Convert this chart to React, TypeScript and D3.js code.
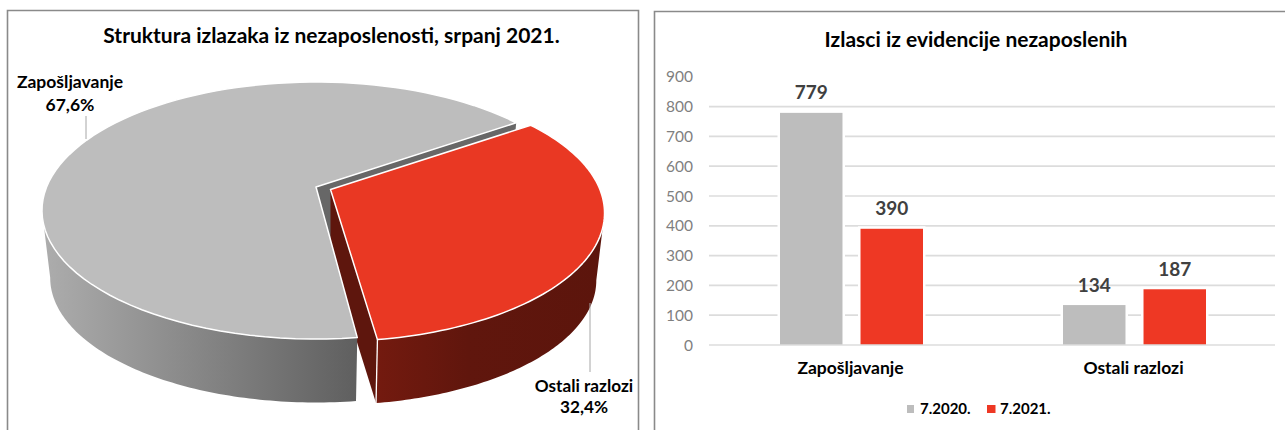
import * as d3 from "d3";

// ── Data ──────────────────────────────────────────────────
const pieCategories = ["Zapošljavanje", "Ostali razlozi"];
const piePercents = [67.6, 32.4];
const pieValueLabels = ["67,6%", "32,4%"];

const barCategories = ["Zapošljavanje", "Ostali razlozi"];
const barSeries = ["7.2020.", "7.2021."];
const values2020 = [779, 134];
const values2021 = [390, 187];
const barTicks = [0, 100, 200, 300, 400, 500, 600, 700, 800, 900];

const GREY = "#bdbdbd";
const RED = "#e93823";
const BAR_RED = "#ee3824";
const FONT = "Lato, 'Open Sans', sans-serif";

// ── Pie: circle seen in perspective ───────────────────────
const APEX = { x: 316, y: 187 };
const RED_SHIFT = { x: 14.5, y: 2.5 };
const R_X = 269.4;
const R_Y = 124.2;
const PERSP = 0.183;
const DEPTH = 68;
const BOTTOM_SCALE = 0.97;
const START = (171.8 * Math.PI) / 180;
const GREY_TRIM = Math.PI / 180; // small gap before the grey slice, as drawn in the source

const slices = d3.pie<number>().sort(null).startAngle(START).endAngle(START + 2 * Math.PI)(piePercents);

function rim(theta: number, shift: { x: number; y: number }, bottom = false): [number, number] {
  const cx = Math.sin(theta);
  const cy = -Math.cos(theta);
  const d = 1 - PERSP * cy;
  const s = bottom ? BOTTOM_SCALE : 1;
  return [
    APEX.x + shift.x + (s * R_X * cx) / d,
    APEX.y + shift.y + (bottom ? DEPTH : 0) + (s * R_Y * cy) / d,
  ];
}

const lineGen = d3.line<[number, number]>();
const closed = (pts: [number, number][]) => lineGen(pts) + "Z";
const sample = (a: number, b: number, shift: { x: number; y: number }, bottom = false) =>
  d3.range(0, 91).map((i) => rim(a + ((b - a) * i) / 90, shift, bottom));

const NO_SHIFT = { x: 0, y: 0 };
const [greySlice, redSlice] = slices;
const greyStart = greySlice.startAngle + GREY_TRIM;
const apexOf = (s: { x: number; y: number }, bottom = false): [number, number] => [
  APEX.x + s.x,
  APEX.y + s.y + (bottom ? DEPTH : 0),
];

// silhouette angles: where the rim is widest
const RIGHT_EXTREME = Math.acos(-PERSP);
const LEFT_EXTREME = 2 * Math.PI - RIGHT_EXTREME;

const greyTop = closed([apexOf(NO_SHIFT), ...sample(greyStart, greySlice.endAngle, NO_SHIFT)]);
const redTop = closed([apexOf(RED_SHIFT), ...sample(redSlice.startAngle, redSlice.endAngle, RED_SHIFT)]);

const wall = (a: number, b: number, s: { x: number; y: number }) =>
  closed([...sample(a, b, s), ...sample(a, b, s, true).reverse()]);

const greyWall = wall(greyStart, LEFT_EXTREME, NO_SHIFT);
const redWall = wall(RIGHT_EXTREME + 2 * Math.PI, redSlice.endAngle, RED_SHIFT);

// cut faces
const cut = (theta: number, s: { x: number; y: number }) =>
  closed([apexOf(s), rim(theta, s), rim(theta, s, true), apexOf(s, true)]);
const greyInner = cut(greySlice.endAngle, NO_SHIFT);
const redInner = cut(redSlice.endAngle, RED_SHIFT);

// ── Bars ──────────────────────────────────────────────────
const BASE_Y = 345;
const y = d3.scaleLinear().domain([0, 900]).range([BASE_Y, 76.8]);
const x0 = d3.scaleBand<string>().domain(barCategories).range([709, 1275]);
const GROUP_W = 143;
const x1 = d3.scaleBand<string>().domain(barSeries).range([0, GROUP_W]).paddingInner(0.224);
const seriesValues = [values2020, values2021];
const seriesColors = [GREY, BAR_RED];
const groupLeft = (c: string) => x0(c)! + (x0.bandwidth() - GROUP_W) / 2 + 1;

export default function App() {
  return (
    <svg width={1285} height={430} style={{ position: "absolute", left: 0, top: 0, background: "#fff" }} fontFamily={FONT}>
      <defs>
        <linearGradient id="greyWall" gradientUnits="userSpaceOnUse" x1={42} x2={358} y1={0} y2={0}>
          <stop offset="0" stopColor="#adadad" />
          <stop offset="1" stopColor="#5f5f5f" />
        </linearGradient>
        <linearGradient id="redWall" gradientUnits="userSpaceOnUse" x1={378} x2={605} y1={0} y2={0}>
          <stop offset="0" stopColor="#731a0f" />
          <stop offset="0.4" stopColor="#60160d" />
          <stop offset="1" stopColor="#5c150c" />
        </linearGradient>
      </defs>

      {/* frames */}
      <path d="M7.5,430V10.5H638.5V430" fill="none" stroke="#8a8a8a" strokeWidth={1.6} />
      <path d="M654.5,430V11.5H1285" fill="none" stroke="#8a8a8a" strokeWidth={1.6} />

      {/* ── Pie ── */}
      <text x={331.5} y={43} textAnchor="middle" fontSize={21} fontWeight={700} fill="#000">
        Struktura izlazaka iz nezaposlenosti, srpanj 2021.
      </text>
      <path d={greyInner} fill="#676767" />
      <path d={redInner} fill="#5e160d" />
      <path d={greyWall} fill="url(#greyWall)" />
      <path d={greyTop} fill={GREY} stroke="#fff" strokeWidth={1.5} strokeLinejoin="round" />
      <path d={redWall} fill="url(#redWall)" />
      <line x1={rim(redSlice.endAngle, RED_SHIFT)[0]} y1={rim(redSlice.endAngle, RED_SHIFT)[1]}
        x2={rim(redSlice.endAngle, RED_SHIFT, true)[0]} y2={rim(redSlice.endAngle, RED_SHIFT, true)[1]}
        stroke="#fff" strokeWidth={1.3} />
      <path d={redTop} fill={RED} stroke="#fff" strokeWidth={1.5} strokeLinejoin="round" />

      <line x1={86} x2={86} y1={116} y2={139} stroke="#a6a6a6" strokeWidth={1} />
      <line x1={590} x2={590} y1={303} y2={372} stroke="#a6a6a6" strokeWidth={1} />
      <text x={70} y={88} textAnchor="middle" fontSize={17.5} fontWeight={700} fill="#000">{pieCategories[0]}</text>
      <text x={70} y={111} textAnchor="middle" fontSize={17.5} fontWeight={700} fill="#000">{pieValueLabels[0]}</text>
      <text x={584} y={392} textAnchor="middle" fontSize={17.2} fontWeight={700} fill="#000">{pieCategories[1]}</text>
      <text x={584} y={413} textAnchor="middle" fontSize={17.2} fontWeight={700} fill="#000">{pieValueLabels[1]}</text>

      {/* ── Bars ── */}
      <text x={976} y={47} textAnchor="middle" fontSize={21} fontWeight={700} fill="#000">
        Izlasci iz evidencije nezaposlenih
      </text>
      {barTicks.map((t) => (
        <g key={t}>
          {t > 0 && t < 900 && (
            <line x1={709} x2={1275} y1={y(t)} y2={y(t)} stroke="#dcdcdc" strokeWidth={1.7} />
          )}
          <text x={693} y={y(t) + 5.5} textAnchor="end" fontSize={15.5} fill="#7f7f7f">{t}</text>
        </g>
      ))}
      {barSeries.map((s, si) =>
        barCategories.map((c, ci) => {
          const v = seriesValues[si][ci];
          const bx = groupLeft(c) + x1(s)!;
          return (
            <g key={s + c}>
              <rect x={bx} y={y(v)} width={x1.bandwidth()} height={BASE_Y - y(v)}
                fill={seriesColors[si]} stroke="#fff" strokeWidth={5} paintOrder="stroke" />
              <text x={bx + x1.bandwidth() / 2} y={y(v) - 13.5} textAnchor="middle"
                fontSize={19} fontWeight={700} fill="#404040">{v}</text>
            </g>
          );
        })
      )}
      <line x1={709} x2={1275} y1={BASE_Y} y2={BASE_Y} stroke="#dcdcdc" strokeWidth={1.7} />
      {barCategories.map((c) => (
        <text key={c} x={x0(c)! + x0.bandwidth() / 2} y={374} textAnchor="middle" fontSize={17.5} fontWeight={700} fill="#000">{c}</text>
      ))}

      {/* legend */}
      {barSeries.map((s, i) => (
        <g key={s} transform={`translate(${i === 0 ? 907 : 987},405)`}>
          <rect width={i === 0 ? 7 : 8.5} height={8} fill={seriesColors[i]} />
          <text x={13} y={9} fontSize={15} fontWeight={700} fill="#000">{s}</text>
        </g>
      ))}
    </svg>
  );
}
